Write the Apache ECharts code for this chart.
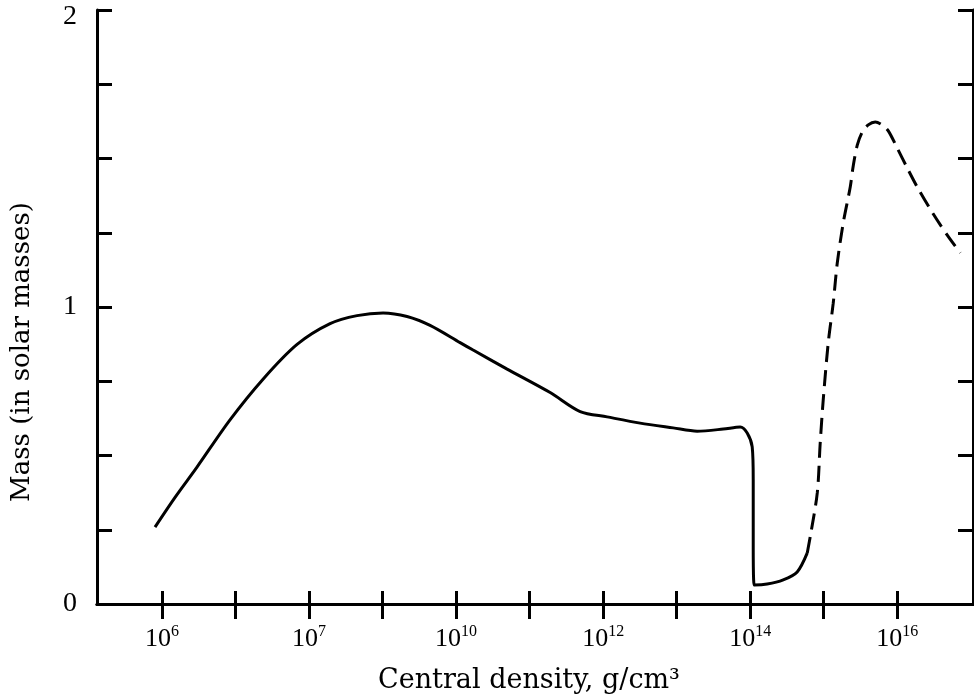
<!DOCTYPE html>
<html>
<head>
<meta charset="utf-8">
<script src="https://cdn.jsdelivr.net/npm/echarts@6/dist/echarts.min.js"></script>
<style>
  html, body { margin: 0; padding: 0; background: #fff; }
  #main { width: 974px; height: 700px; }
</style>
</head>
<body>
<div id="main"></div>
<script>
// x = log10(central density), y = mass in solar masses
var solidX = [5.905, 6.18, 6.476, 6.925, 7.374, 7.837, 8.286, 8.653, 9.007, 9.333, 9.646, 10.054, 10.231, 10.694, 11.279, 11.687, 12.054, 12.503, 12.952, 13.279, 13.633, 13.864, 13.959, 14.027, 14.041, 14.041, 14.054, 14.231, 14.449, 14.639, 14.776];
var solidY = [0.259, 0.360, 0.461, 0.620, 0.757, 0.874, 0.944, 0.971, 0.980, 0.968, 0.938, 0.880, 0.855, 0.791, 0.712, 0.648, 0.630, 0.609, 0.593, 0.582, 0.589, 0.596, 0.576, 0.529, 0.418, 0.215, 0.064, 0.067, 0.081, 0.108, 0.172];

var dashX = [14.776, 14.816, 14.912, 14.952, 14.993, 15.061, 15.129, 15.184, 15.265, 15.361, 15.401, 15.456, 15.524, 15.605, 15.701, 15.796, 15.878, 16.0, 16.136, 16.272, 16.49, 16.68, 16.857];
var dashY = [0.172, 0.226, 0.374, 0.542, 0.687, 0.879, 1.013, 1.148, 1.283, 1.405, 1.475, 1.545, 1.589, 1.613, 1.623, 1.613, 1.593, 1.535, 1.468, 1.404, 1.313, 1.242, 1.182];

// ticks every decade, labels every second one (the book prints "10^7" at 10^8)
var tickPos = [6, 7, 8, 9, 10, 11, 12, 13, 14, 15, 16];
var labelPos = [6, 8, 10, 12, 14, 16];
var labelExp = ['6', '7', '10', '12', '14', '16'];

var pairs = function(xs, ys){
    var out = [];
    for (var i = 0; i < xs.length; i++) out.push([xs[i], ys[i]]);
    return out;
};

var serif = '"Liberation Serif", "DejaVu Serif", serif';
var wideSerif = '"DejaVu Serif", "Liberation Serif", serif';
var tickStyle = {color: '#000', width: 3};

var myChart = echarts.init(document.getElementById('main'));
var option = {
    backgroundColor: '#fff',
    animation: false,
    grid: {left: 97, right: 1, top: 10, bottom: 96},
    xAxis: [{
        type: 'value',
        min: 5.116, max: 17.03,
        position: 'bottom',
        name: 'Central density, g/cm³',
        nameLocation: 'middle',
        nameGap: 63,
        nameTextStyle: {fontFamily: wideSerif, fontSize: 27, color: '#000', padding: [0, 12, 0, 0]},
        splitLine: {show: false},
        axisLine: {lineStyle: {color: '#000', width: 3}},
        axisTick: {inside: true, length: 13, lineStyle: tickStyle, customValues: tickPos},
        axisLabel: {
            customValues: labelPos,
            margin: 20,
            formatter: function(v){
                var i = labelPos.indexOf(Math.round(v));
                return i < 0 ? '' : '{b|10}{s|' + labelExp[i] + '}';
            },
            rich: {
                b: {fontFamily: serif, fontSize: 26, color: '#000', lineHeight: 28, verticalAlign: 'bottom'},
                s: {fontFamily: serif, fontSize: 16, color: '#000', lineHeight: 28, verticalAlign: 'top', padding: [0, 0, 10, 0]}
            }
        }
    }, {
        type: 'value',
        min: 5.116, max: 17.03,
        position: 'top',
        splitLine: {show: false},
        axisLine: {lineStyle: {color: '#000', width: 3}},
        axisTick: {inside: true, length: 15, lineStyle: tickStyle, customValues: tickPos},
        axisLabel: {show: false}
    }],
    yAxis: [{
        type: 'value',
        min: 0, max: 2, interval: 0.25,
        position: 'left',
        name: 'Mass (in solar masses)',
        nameLocation: 'middle',
        nameGap: 62,
        nameTextStyle: {fontFamily: wideSerif, fontSize: 26, color: '#000', padding: [0, 90, 0, 0]},
        splitLine: {show: false},
        axisLine: {lineStyle: {color: '#000', width: 3}},
        axisTick: {inside: true, length: 15, lineStyle: tickStyle},
        axisLabel: {
            customValues: [0, 1, 2],
            margin: 20,
            fontFamily: serif, fontSize: 28, color: '#000',
            formatter: function(v){ return v === 2 ? '{t|2}' : String(v); },
            rich: {t: {fontFamily: serif, fontSize: 28, color: '#000', padding: [14, 0, 0, 0]}}
        }
    }, {
        type: 'value',
        min: 0, max: 2, interval: 0.25,
        position: 'right',
        splitLine: {show: false},
        axisLine: {lineStyle: {color: '#000', width: 3}},
        axisTick: {inside: true, length: 15, lineStyle: tickStyle},
        axisLabel: {show: false}
    }],
    series: [{
        type: 'line',
        data: pairs(solidX, solidY),
        showSymbol: false,
        smooth: 0.3,
        lineStyle: {color: '#000', width: 3}
    }, {
        type: 'line',
        data: pairs(dashX, dashY),
        showSymbol: false,
        smooth: 0.3,
        lineStyle: {color: '#000', width: 3, type: [16, 8]}
    }]
};
myChart.setOption(option);
</script>
</body>
</html>
